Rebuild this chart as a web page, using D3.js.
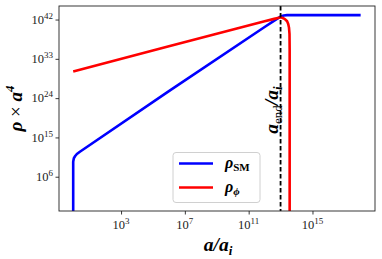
<!DOCTYPE html>
<html><head><meta charset="utf-8">
<script src="https://cdn.jsdelivr.net/npm/d3@7"></script>
<style>body{margin:0;background:#fff}svg{display:block}</style></head>
<body>
<script>
// ---- data (log10 values) ----
const xTickExps = [3, 7, 11, 15];
const yTickExps = [6, 15, 24, 33, 42];
const smLogA   = [0.0, 0.0, 0.04, 0.125, 0.23, 0.42, 6.0, 12.0, 12.8, 13.03, 13.2, 13.4, 18.02];
const smLogRho = [-4, 9.44, 10.24, 10.74, 11.2, 11.73, 25.6, 40.3, 42.2, 42.75, 42.93, 43.0, 43.0];
const phiLogA   = [0.0, 6.0, 12.0, 12.6, 13.03, 13.17, 13.29, 13.41, 13.48, 13.53, 13.56, 13.57, 13.57];
const phiLogRho = [30.1, 35.9, 41.6, 42.15, 42.5, 42.3, 42.05, 41.6, 41.0, 40.1, 38.7, 35.1, -4];
const aEndExp = 13;
const seriesNames = ["SM", "ϕ"];
const seriesColors = ["#0000ff", "#ff0000"];

const W = 382, H = 259;
const L = 59, R = 375, T = 6, B = 211;
const svg = d3.select("body").append("svg").attr("width", W).attr("height", H);

const x = d3.scaleLog().domain([10 ** -0.89, 10 ** 18.92]).range([L, R]);
const y = d3.scaleLog().domain([10 ** -1.85, 10 ** 45.1]).range([B, T]);

svg.append("clipPath").attr("id", "clip").append("rect")
  .attr("x", L).attr("y", T).attr("width", R - L).attr("height", B - T);

const line = d3.line().x(d => x(10 ** d[0])).y(d => y(10 ** d[1]));
const g = svg.append("g").attr("clip-path", "url(#clip)");

g.append("path").datum(smLogA.map((a, i) => [a, smLogRho[i]]))
  .attr("d", line).attr("fill", "none").attr("stroke", seriesColors[0])
  .attr("stroke-width", 2.6).attr("stroke-linejoin", "round");
g.append("path").datum(phiLogA.map((a, i) => [a, phiLogRho[i]]))
  .attr("d", line).attr("fill", "none").attr("stroke", seriesColors[1])
  .attr("stroke-width", 2.6).attr("stroke-linejoin", "round");

// dashed a_end line
g.append("line").attr("x1", x(10 ** aEndExp)).attr("x2", x(10 ** aEndExp))
  .attr("y1", T).attr("y2", B).attr("stroke", "#000").attr("stroke-width", 1.8)
  .attr("stroke-dasharray", "4.5,2.5");

const serif = "'Liberation Serif','Times New Roman',serif";

// axes
const xAxis = svg.append("g").attr("transform", `translate(0,${B})`)
  .call(d3.axisBottom(x).tickValues(xTickExps.map(e => 10 ** e)).tickSize(3.5).tickFormat(""));
const yAxis = svg.append("g").attr("transform", `translate(${L},0)`)
  .call(d3.axisLeft(y).tickValues(yTickExps.map(e => 10 ** e)).tickSize(3.5).tickFormat(""));
[xAxis, yAxis].forEach(a => { a.select(".domain").remove(); a.selectAll(".tick line").attr("stroke", "#222").attr("stroke-width", 0.9); });

xTickExps.forEach(e => {
  const t = svg.append("text").attr("x", x(10 ** e)).attr("y", 228.5)
    .attr("text-anchor", "middle").attr("font-family", serif).attr("font-size", 12.5).attr("fill", "#222");
  t.append("tspan").text("10");
  t.append("tspan").attr("dy", -5).attr("font-size", 9).text(e);
});
yTickExps.forEach(e => {
  const t = svg.append("text").attr("x", 53).attr("y", y(10 ** e) + 4.3)
    .attr("text-anchor", "end").attr("font-family", serif).attr("font-size", 12.5).attr("fill", "#222");
  t.append("tspan").text("10");
  t.append("tspan").attr("dy", -5).attr("font-size", 9).text(e);
});

// frame
svg.append("rect").attr("x", L).attr("y", T).attr("width", R - L).attr("height", B - T)
  .attr("fill", "none").attr("stroke", "#222").attr("stroke-width", 0.9);

// axis labels
const xl = svg.append("text").attr("x", (L + R) / 2 + 1).attr("y", 251).attr("text-anchor", "middle")
  .attr("font-family", serif).attr("font-size", 19.5).attr("font-weight", "bold").attr("font-style", "italic");
xl.append("tspan").text("a/a");
xl.append("tspan").attr("dy", 4).attr("font-size", 13).text("i");

const yl = svg.append("text").attr("transform", `translate(22,${(T + B) / 2}) rotate(-90)`)
  .attr("text-anchor", "middle").attr("font-family", serif).attr("font-size", 19)
  .attr("font-weight", "bold").attr("font-style", "italic");
yl.append("tspan").text("ρ ");
yl.append("tspan").attr("font-weight", "normal").attr("font-style", "normal").text("×");
yl.append("tspan").text(" a");
yl.append("tspan").attr("dy", -8).attr("font-size", 13).text("4");

const dl = svg.append("text").attr("transform", `translate(278,110) rotate(-90)`)
  .attr("text-anchor", "middle").attr("font-family", serif).attr("font-size", 19.5)
  .attr("font-weight", "bold").attr("font-style", "italic");
dl.append("tspan").text("a");
dl.append("tspan").attr("dy", 4).attr("font-size", 13).attr("font-style", "normal").attr("font-weight", "normal").text("end");
dl.append("tspan").attr("dy", -4).text("/a");
dl.append("tspan").attr("dy", 4).attr("font-size", 13).text("i");

// legend
const lg = svg.append("g");
lg.append("rect").attr("x", 173).attr("y", 152.5).attr("width", 87).attr("height", 50)
  .attr("rx", 3).attr("fill", "#fff").attr("fill-opacity", 0.85).attr("stroke", "#d0d0d0").attr("stroke-width", 1);
seriesNames.forEach((n, i) => {
  const yy = 163.5 + i * 24;
  lg.append("line").attr("x1", 179).attr("x2", 213).attr("y1", yy).attr("y2", yy)
    .attr("stroke", seriesColors[i]).attr("stroke-width", 2.6);
  const t = lg.append("text").attr("x", 225).attr("y", yy + 4).attr("font-family", serif)
    .attr("font-size", 16).attr("font-weight", "bold").attr("font-style", "italic");
  t.append("tspan").text("ρ");
  t.append("tspan").attr("dy", 3.5).attr("font-size", 11)
    .attr("font-style", i === 0 ? "normal" : "italic").text(n);
});
</script>
</body></html>
